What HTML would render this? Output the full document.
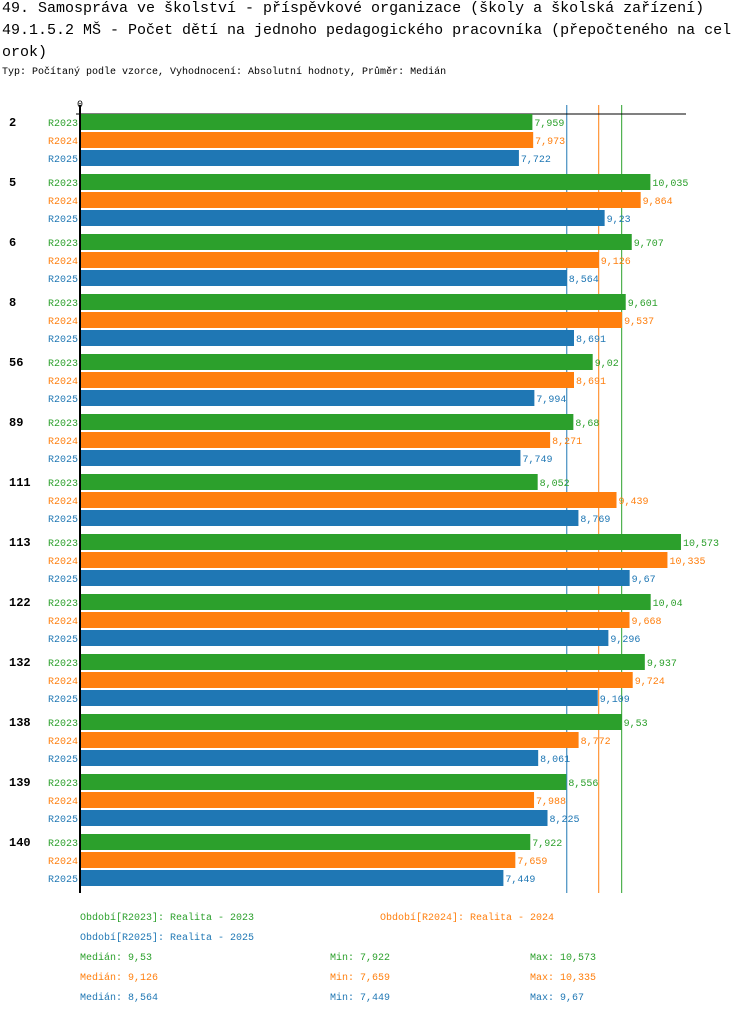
<!DOCTYPE html>
<html><head><meta charset="utf-8"><style>
body{margin:0;background:#fff;width:750px;height:1014px;overflow:hidden;font-family:"Liberation Mono",monospace;}
.t{position:absolute;left:2px;font-size:15px;color:#000;white-space:nowrap}
svg text{font-family:"Liberation Mono",monospace}
</style></head><body>
<div class="t" style="top:0px">49. Samospráva ve školství - příspěvkové organizace (školy a školská zařízení)</div>
<div class="t" style="top:22px">49.1.5.2 MŠ - Počet dětí na jednoho pedagogického pracovníka (přepočteného na cel</div>
<div class="t" style="top:44px">orok)</div>
<div class="t" style="top:67px;font-size:10px">Typ: Počítaný podle vzorce, Vyhodnocení: Absolutní hodnoty, Průměr: Medián</div>
<svg id="c" width="750" height="1014" style="position:absolute;left:0;top:0"></svg>
<script>
const categories=["2","5","6","8","56","89","111","113","122","132","138","139","140"];
const seriesNames=["R2023","R2024","R2025"];
const colors=["#2ca02c","#ff7f0e","#1f77b4"];
const r2023=[7.959,10.035,9.707,9.601,9.02,8.68,8.052,10.573,10.04,9.937,9.53,8.556,7.922];
const r2024=[7.973,9.864,9.126,9.537,8.691,8.271,9.439,10.335,9.668,9.724,8.772,7.988,7.659];
const r2025=[7.722,9.23,8.564,8.691,7.994,7.749,8.769,9.67,9.296,9.109,8.061,8.225,7.449];
const medians=[9.53,9.126,8.564];
const mins=[7.922,7.659,7.449];
const maxs=[10.573,10.335,9.67];
const series=[r2023,r2024,r2025];
const NS="http://www.w3.org/2000/svg";
const svg=document.getElementById('c');
const x0=80,k=56.84;
const X=v=>x0+v*k;
const Y=(g,s)=>114+g*60+s*18;
const fmt=v=>String(v).replace('.',',');
function mk(tag,attrs,txt){const e=document.createElementNS(NS,tag);for(const a in attrs)e.setAttribute(a,attrs[a]);if(txt!==undefined)e.textContent=txt;svg.appendChild(e);return e;}
let e;
medians.forEach((m,s)=>{
  e=mk('line',{x1:X(m),y1:105,x2:X(m),y2:893,stroke:colors[s],'stroke-width':1});
  
  
});
e=mk('line',{x1:76,y1:114,x2:686,y2:114,stroke:'#000','stroke-width':1});


e=mk('text',{x:80,y:107,'font-size':10,'text-anchor':'middle'},'0');


categories.forEach((c,g)=>{
  e=mk('text',{x:9,y:Y(g,0)+12,'font-size':12,'font-weight':'bold'},c);
  
  
  series.forEach((sv,s)=>{
    const y=Y(g,s);
    e=mk('text',{x:78,y:y+12,'font-size':10,'text-anchor':'end',fill:colors[s]},seriesNames[s]);
    
    
    e=mk('rect',{x:x0,y:y,width:X(sv[g])-x0,height:16,fill:colors[s]});
    
    
    e=mk('text',{x:X(sv[g])+2,y:y+12,'font-size':10,fill:colors[s]},fmt(sv[g]));
    
    
  });
});
e=mk('line',{x1:80,y1:105,x2:80,y2:893,stroke:'#000','stroke-width':2});


const legs=[["Období[R2023]: Realita - 2023",80,920,0],["Období[R2024]: Realita - 2024",380,920,1],["Období[R2025]: Realita - 2025",80,940,2]];
legs.forEach(l=>{e=mk('text',{x:l[1],y:l[2],'font-size':10,fill:colors[l[3]]},l[0]);

});
[0,1,2].forEach(s=>{
  const y=960+s*20;
  e=mk('text',{x:80,y:y,'font-size':10,fill:colors[s]},'Medián: '+fmt(medians[s]));
  
  
  e=mk('text',{x:330,y:y,'font-size':10,fill:colors[s]},'Min: '+fmt(mins[s]));
  
  
  e=mk('text',{x:530,y:y,'font-size':10,fill:colors[s]},'Max: '+fmt(maxs[s]));
  
  
});
</script>
</body></html>
